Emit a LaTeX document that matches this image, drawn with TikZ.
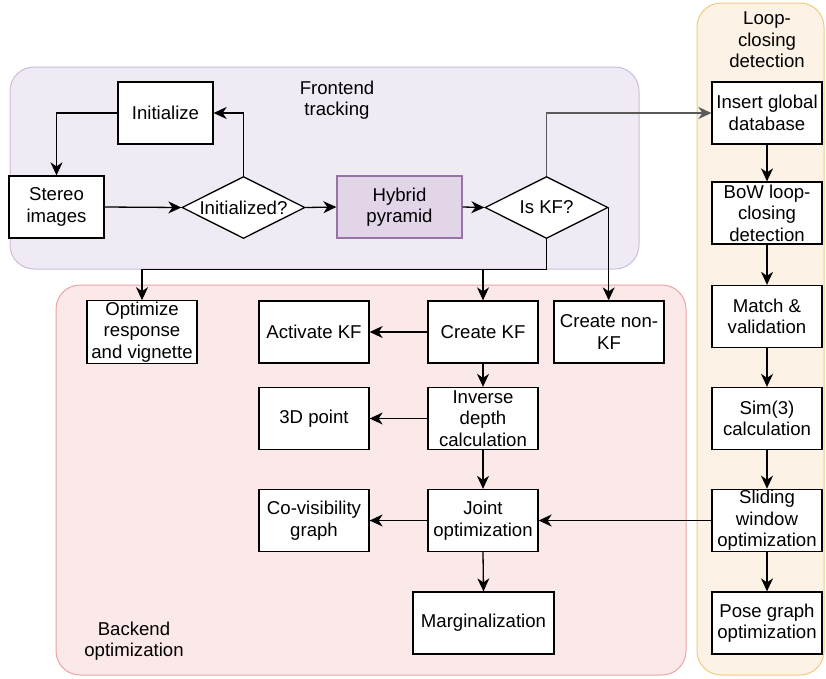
\documentclass[tikz,border=0pt]{standalone}
\usepackage{fontspec}
\setmainfont{Liberation Sans}
\usetikzlibrary{arrows.meta,shapes.geometric}

\definecolor{frontfill}{RGB}{240,234,244}
\definecolor{frontline}{RGB}{205,188,220}
\definecolor{backfill}{RGB}{251,232,232}
\definecolor{backline}{RGB}{234,165,165}
\definecolor{loopfill}{RGB}{253,242,230}
\definecolor{loopline}{RGB}{240,205,125}
\definecolor{hybfill}{RGB}{225,213,231}
\definecolor{hybline}{RGB}{150,115,166}
\definecolor{linkgray}{RGB}{90,90,90}

\begin{document}
\begin{tikzpicture}
          [x=1pt,y=-1pt,line width=1.3pt,
           every node/.style={font=\fontsize{18.6}{21.5}\selectfont,align=center},
           box/.style={draw,fill=white,minimum width=110pt,minimum height=62pt,inner sep=1pt},
           decision/.style={draw,fill=white,shape=diamond,aspect=2,inner sep=0pt,minimum width=123pt,minimum height=62pt},
           group/.style={rounded corners=24pt,line width=1pt},
           arr/.style={-{Stealth[length=13pt,width=12pt,inset=4pt]}},
           grayarr/.style={arr,draw=linkgray}]

          \useasboundingbox (0,0) rectangle (826,678);

          % groups
          \draw[group,fill=frontfill,draw=frontline] (10,67) rectangle (639,269);
          \draw[group,fill=backfill,draw=backline] (56,285) rectangle (686,675);
          \draw[group,fill=loopfill,draw=loopline] (697,3) rectangle (824,675);

          \node (lfront) at (337,100) {Frontend\\tracking};
          \node (lback) at (134,641) {Backend\\optimization};
          \node (lloop) at (767,40) {Loop-\\closing\\detection};

          % frontend
          \node[box,minimum width=95pt] (init) at (165.5,113) {Initialize};
          \node[box,minimum width=95pt] (stereo) at (56.5,207) {Stereo\\images};
          \node[decision] (initq) at (243.5,207.5) {Initialized?};
          \node[box,minimum width=125pt,fill=hybfill,draw=hybline] (hybrid) at (399.5,207) {Hybrid\\pyramid};
          \node[decision] (iskf) at (546.5,207.5) {Is KF?};

          % backend
          \node[box] (optim) at (142,332) {Optimize\\response\\and vignette};
          \node[box] (activ) at (314,332) {Activate KF};
          \node[box] (create) at (483,332) {Create KF};
          \node[box] (nonkf) at (609,332) {Create non-\\KF};
          \node[box] (point) at (314,418.5) {3D point};
          \node[box] (invdep) at (483,418.5) {Inverse\\depth\\calculation};
          \node[box] (covis) at (314,520.5) {Co-visibility\\graph};
          \node[box] (joint) at (483,520.5) {Joint\\optimization};
          \node[box,minimum width=141pt] (margin) at (483.5,623) {Marginalization};

          % loop closing
          \node[box] (insert) at (767,113) {Insert global\\database};
          \node[box] (bow) at (767,213) {BoW loop-\\closing\\detection};
          \node[box] (match) at (767,316.5) {Match \&\\validation};
          \node[box] (sim) at (767,418.5) {Sim(3)\\calculation};
          \node[box] (slide) at (767,520.5) {Sliding\\window\\optimization};
          \node[box] (pose) at (767,623) {Pose graph\\optimization};

          \coordinate (split) at ([yshift=-30pt]iskf.south);

          \draw[arr] (initq.north) |- (init.east);
          \draw[arr] (init.west) -| (stereo.north);
          \draw[arr] (stereo.east) -- (initq.west);
          \draw[arr] (initq.east) -- (hybrid.west);
          \draw[arr] (hybrid.east) -- (iskf.west);
          \draw[grayarr] (iskf.north) |- (insert.west);
          \draw[arr] (iskf.south) -- (split) -| (optim.north);
          \draw[arr] (split) -| (create.north);
          \draw[arr] (iskf.east) -- (iskf.east |- nonkf.north);

          \draw[arr] (create.west) -- (activ.east);
          \draw[arr] (create.south) -- (invdep.north);
          \draw[arr] (invdep.west) -- (point.east);
          \draw[arr] (invdep.south) -- (joint.north);
          \draw[arr] (joint.west) -- (covis.east);
          \draw[arr] (joint.south) -- (margin.north);

          \draw[arr] (insert.south) -- (bow.north);
          \draw[arr] (bow.south) -- (match.north);
          \draw[arr] (match.south) -- (sim.north);
          \draw[arr] (sim.south) -- (slide.north);
          \draw[arr] (slide.south) -- (pose.north);
          \draw[arr] (slide.west) -- (joint.east);
        \end{tikzpicture}
\end{document}
